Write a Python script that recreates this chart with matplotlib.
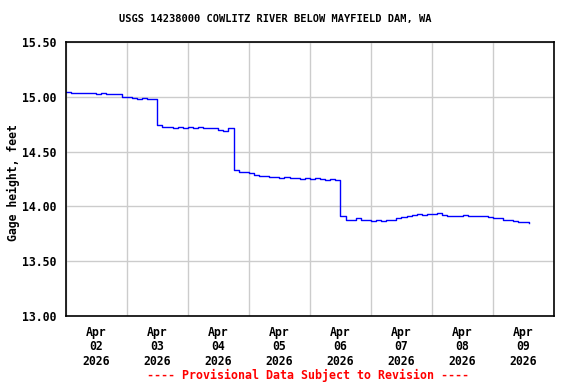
import numpy as np
import pandas as pd
import matplotlib
matplotlib.use("Agg")
import matplotlib.pyplot as plt
import matplotlib.dates as mdates

# gage height, feet, read every 2 hours starting Apr 02 2026 00:00
apr02 = [15.04, 15.03, 15.03, 15.03, 15.03, 15.03, 15.02, 15.03, 15.02, 15.02, 15.02, 15.00]
apr03 = [15.00, 14.99, 14.98, 14.99, 14.98, 14.98, 14.74, 14.72, 14.72, 14.71, 14.72, 14.71]
apr04 = [14.72, 14.71, 14.72, 14.71, 14.71, 14.71, 14.70, 14.69, 14.71, 14.33, 14.31, 14.31]
apr05 = [14.30, 14.29, 14.28, 14.28, 14.27, 14.27, 14.26, 14.27, 14.26, 14.26, 14.25, 14.26]
apr06 = [14.25, 14.26, 14.25, 14.24, 14.25, 14.24, 13.91, 13.88, 13.88, 13.89, 13.88, 13.88]
apr07 = [13.87, 13.88, 13.87, 13.88, 13.88, 13.89, 13.90, 13.91, 13.92, 13.93, 13.92, 13.93]
apr08 = [13.93, 13.94, 13.92, 13.91, 13.91, 13.91, 13.92, 13.91, 13.91, 13.91, 13.91, 13.90]
apr09 = [13.89, 13.89, 13.88, 13.88, 13.87, 13.86, 13.86, 13.85]

heights = apr02 + apr03 + apr04 + apr05 + apr06 + apr07 + apr08 + apr09
times = pd.date_range("2026-04-02 00:00", periods=len(heights), freq="2h")

title = "USGS 14238000 COWLITZ RIVER BELOW MAYFIELD DAM, WA"
ylabel = "Gage height, feet"
footer = "---- Provisional Data Subject to Revision ----"

font = ["DejaVu Sans Mono"]

fig = plt.figure(figsize=(5.76, 3.84), dpi=100)
ax = fig.add_axes([0.114, 0.177, 0.848, 0.714])

ax.plot(times, heights, color="#0000ff", lw=1.0, drawstyle="steps-post")

ax.set_xlim(pd.Timestamp("2026-04-02"), pd.Timestamp("2026-04-10"))
ax.set_ylim(13.0, 15.5)
ax.set_yticks(np.arange(13.0, 15.51, 0.5))
ax.yaxis.set_major_formatter(plt.FormatStrFormatter("%.2f"))

ax.xaxis.set_major_locator(mdates.DayLocator())
ax.xaxis.set_major_formatter(plt.NullFormatter())
ax.xaxis.set_minor_locator(mdates.HourLocator(byhour=12))
ax.xaxis.set_minor_formatter(mdates.DateFormatter("%b\n%d\n%Y"))

ax.grid(True, which="major", color="#cccccc", lw=1.0)
ax.set_axisbelow(True)
ax.tick_params(which="both", length=0)
ax.tick_params(axis="x", which="minor", pad=7)
ax.tick_params(axis="y", pad=7)
for lab in ax.get_xticklabels(minor=True) + ax.get_yticklabels():
    lab.set_family(font)
    lab.set_fontweight("bold")
    lab.set_fontsize(8.3)
for lab in ax.get_xticklabels(minor=True):
    lab.set_linespacing(1.15)

for s in ax.spines.values():
    s.set_linewidth(1.2)

fig.text(13 / 576, 1 - 183 / 384, ylabel, rotation=90, ha="center", va="center",
         family=font, fontweight="bold", fontsize=8.3)
fig.text(275 / 576, 1 - 19 / 384, title, ha="center", va="center",
         family=font, fontweight="bold", fontsize=7.5)
fig.text(308 / 576, 1 - 375 / 384, footer, ha="center", va="center",
         family=font, fontweight="bold", fontsize=8.4, color="#ff0000")

fig.savefig("out.png", dpi=100)
